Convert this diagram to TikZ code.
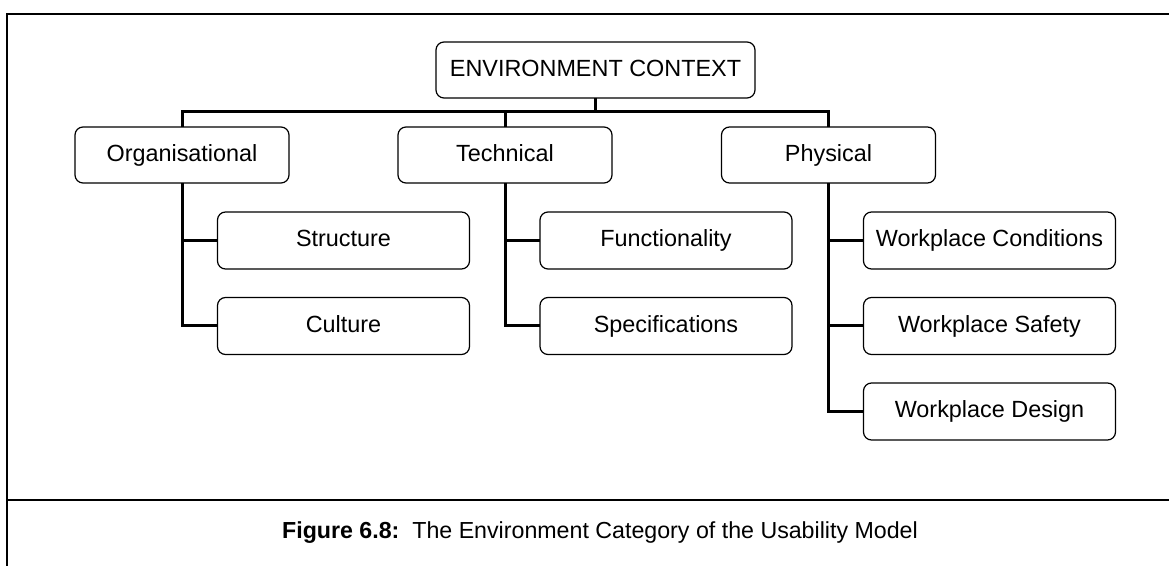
\documentclass[tikz,border=0pt]{standalone}
\usepackage{fontspec}
\setmainfont{Liberation Sans}
\usepackage{tikz}
\tikzset{
	main node/.style={rectangle,rounded corners=4pt,draw,line width=0.6pt,outer sep=0pt,
		inner sep=2pt,minimum height=28pt,text height=8.6pt,text depth=2.4pt,
		font=\fontsize{11.7}{14}\selectfont},
	cat node/.style={main node,minimum width=107pt},
	sub node/.style={main node,minimum width=126pt,minimum height=28.5pt},
	link/.style={draw,line width=1.5pt},
	frame/.style={draw,line width=1pt}
}

\begin{document}
\begin{tikzpicture}[x=0.5pt,y=-0.5pt,node distance=42.75pt]
      \useasboundingbox (0,0) rectangle (1169,566);
      \draw[frame] (7,566) -- (7,14) -- (1169,14);
      \draw[frame] (7,500) -- (1169,500);

      \node[main node,minimum width=159.5pt] (0) at (595.5,70) {ENVIRONMENT CONTEXT};

      \node[cat node] (1) at (182,155) {Organisational};
      \node[cat node] (2) at (505,155) {Technical};
      \node[cat node] (3) at (828.5,155) {Physical};

      \node[sub node] (11) at (343.5,240.5) {Structure};
      \node[sub node] (12) [below of=11] {Culture};

      \node[sub node] (21) at (666,240.5) {Functionality};
      \node[sub node] (22) [below of=21] {Specifications};

      \node[sub node] (31) at (989.5,240.5) {Workplace Conditions};
      \node[sub node] (32) [below of=31] {Workplace Safety};
      \node[sub node] (33) [below of=32] {Workplace Design};

      \path[link]
        (0.south) -- ++(0,14) coordinate (b)
        (b) -| (1.north)
        (b) -| (2.north)
        (b) -| (3.north)
        (1.south) |- (11.west)
        (1.south) |- (12.west)
        (2.south) |- (21.west)
        (2.south) |- (22.west)
        (3.south) |- (31.west)
        (3.south) |- (32.west)
        (3.south) |- (33.west);

      \node[font=\fontsize{11.6}{14}\selectfont] (cap) at (600,533)
        {\textbf{Figure 6.8:}\ \ The Environment Category of the Usability Model};
\end{tikzpicture}
\end{document}
